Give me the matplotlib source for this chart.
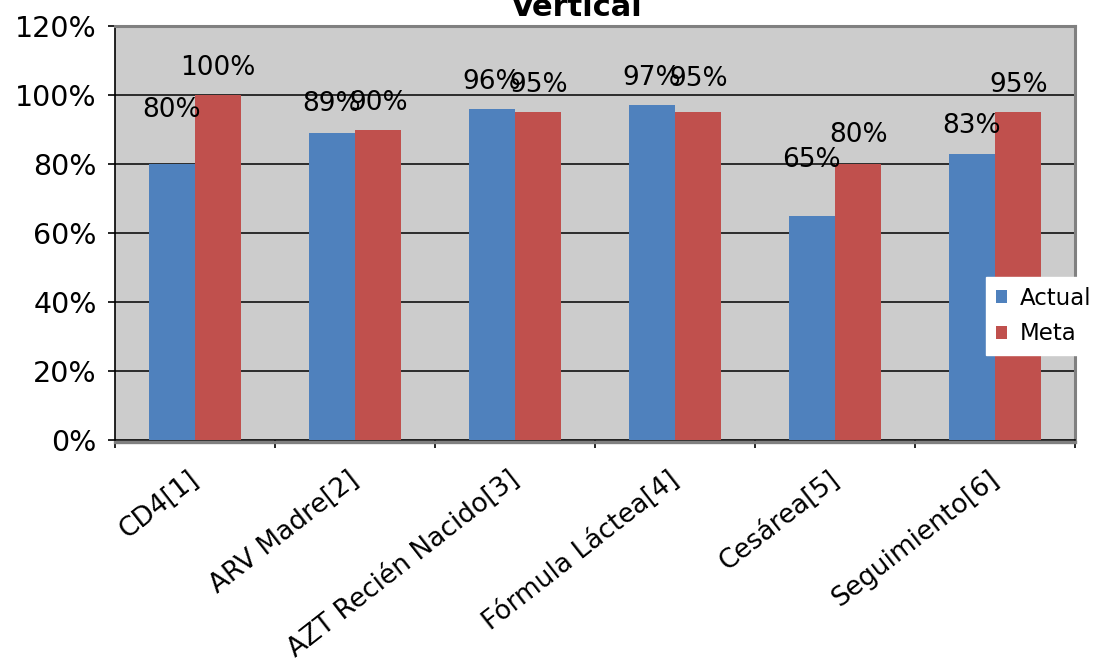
import matplotlib
matplotlib.use("Agg")
import matplotlib.pyplot as plt
from matplotlib.ticker import FixedLocator, PercentFormatter
from matplotlib.transforms import ScaledTranslation

categories = ["CD4[1]", "ARV Madre[2]", "AZT Recién Nacido[3]",
              "Fórmula Láctea[4]", "Cesárea[5]", "Seguimiento[6]"]
actual = [80, 89, 96, 97, 65, 83]
meta = [100, 90, 95, 95, 80, 95]
series_names = ["Actual", "Meta"]

# vertical lift of each value label above its bar, in pixels
lift_actual = [54, 29, 27, 27, 56, 28]
lift_meta = [27, 27, 27, 33, 29, 27]

BLUE = "#4F81BD"
RED = "#C0504D"
PLOT_BG = "#CCCCCC"
BORDER = "#808080"

plt.rcParams["font.family"] = ["DejaVu Sans"]

fig = plt.figure(figsize=(10.97, 6.62), dpi=100)
W, H = 1097, 662
ax = fig.add_axes([115 / W, 1 - 440 / H, 960 / W, 414 / H])
ax.set_facecolor(PLOT_BG)

x = list(range(len(categories)))
bw = 0.29
xa = [i - bw / 2 for i in x]
xm = [i + bw / 2 for i in x]
ax.bar(xa, actual, width=bw, color=BLUE, label=series_names[0], zorder=3)
ax.bar(xm, meta, width=bw, color=RED, label=series_names[1], zorder=3)

for xs, vals, lifts in ((xa, actual, lift_actual), (xm, meta, lift_meta)):
    for xi, v, lf in zip(xs, vals, lifts):
        ax.annotate(f"{v}%", (xi, v), xytext=(0, lf), textcoords="offset pixels",
                    ha="center", va="center", fontsize=19, zorder=5)

ax.set_xlim(-0.5, len(categories) - 0.5)
ax.set_ylim(0, 120)

ax.yaxis.set_major_locator(FixedLocator([0, 20, 40, 60, 80, 100, 120]))
ax.yaxis.set_major_formatter(PercentFormatter(decimals=0))
ax.tick_params(axis="y", labelsize=20.5, length=5, width=1.2, direction="out", pad=8)
for g in [20, 40, 60, 80, 100]:
    ax.axhline(g, color="black", lw=1.1, zorder=1)

ax.set_xticks(x)
ax.set_xticklabels(categories, rotation=38, ha="right", va="top", fontsize=19)
ax.set_xticks([i - 0.5 for i in range(len(categories) + 1)], minor=True)
ax.tick_params(axis="x", which="major", length=0, pad=19)
ax.tick_params(axis="x", which="minor", length=6, width=1.2, direction="out")
shift = ScaledTranslation(9 / 100, 0, fig.dpi_scale_trans)
for lbl in ax.get_xticklabels():
    lbl.set_transform(lbl.get_transform() + shift)

for side in ("top", "right"):
    ax.spines[side].set_color(BORDER)
    ax.spines[side].set_linewidth(2.2)
ax.spines["left"].set_color("black")
ax.spines["left"].set_linewidth(1.2)
ax.spines["bottom"].set_color("black")
ax.spines["bottom"].set_linewidth(1.2)
ax.plot([0, 1], [0, 0], color=BORDER, lw=2.4, clip_on=False, zorder=4,
        transform=ax.transAxes + ScaledTranslation(0, -2 / 100, fig.dpi_scale_trans))

leg = fig.legend(loc="upper left", bbox_to_anchor=(986 / W, 1 - 277 / H),
                 frameon=True, fontsize=16.5, handlelength=0.5, handleheight=0.5,
                 handletextpad=0.55, borderpad=0.42, labelspacing=0.55,
                 fancybox=False, borderaxespad=0)
leg.get_frame().set_facecolor("white")
leg.get_frame().set_edgecolor("white")
leg.get_frame().set_alpha(1)

fig.text(577 / W, 1 - 16 / H, "Vertical", ha="center", va="baseline",
         fontsize=22, fontweight="bold")

fig.savefig("out.png", dpi=100, facecolor="white")
